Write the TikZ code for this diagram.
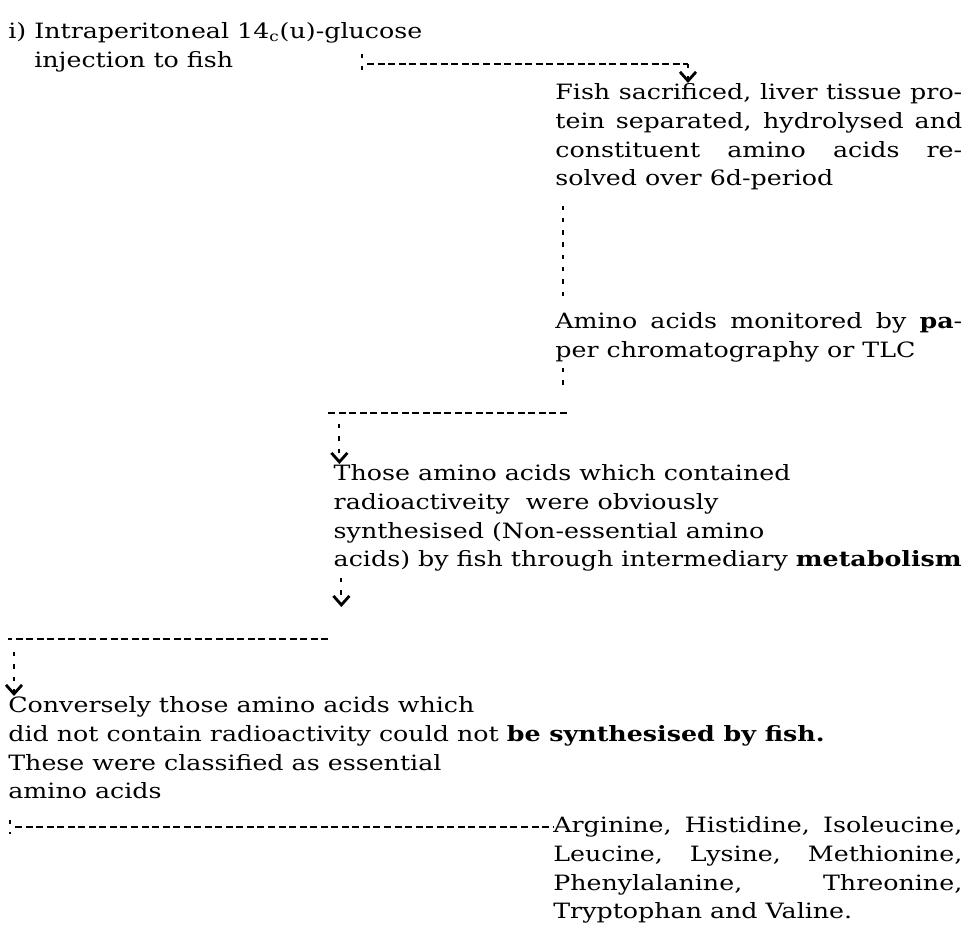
\documentclass[tikz,border=0pt]{standalone}
\usepackage{fontspec}
\setmainfont[FakeStretch=1.2]{DejaVu Serif}
\usetikzlibrary{arrows.meta}

\begin{document}
\begin{tikzpicture}[x=0.02cm,y=-0.02cm,font=\fontsize{12}{16.4}\selectfont,
  txt/.style={inner sep=0pt,anchor=north west,align=left},
  jtxt/.style={txt,text width=8.14cm,align=justify},
  hdash/.style={line width=1.1pt,dash pattern=on 4pt off 2pt},
  vdash/.style={line width=1.1pt,dash pattern=on 2.5pt off 4.5pt},
  tip/.style={-{Straight Barb[length=1.8mm,width=3.2mm,line width=1.6pt]}}]
  \useasboundingbox (0,0) rectangle (969,940);
  % text blocks
  \node[txt] (inject) at (8,22) {i) Intraperitoneal 14\textsubscript{c}(u)-glucose\\\phantom{i) }injection to fish};
  \node[jtxt] (sacrifice) at (555,83) {Fish sacrificed, liver tissue pro-\linebreak tein separated, hydrolysed and\linebreak constituent amino acids re-\linebreak solved over 6d-period};
  \node[jtxt] (monitor) at (555,312) {Amino acids monitored by \textbf{pa}-\linebreak per chromatography or TLC};
  \node[txt,anchor=north east] (nonessen) at (962,464) {Those amino acids which contained\\radioactiveity\ \ were obviously\\synthesised (Non-essential amino\\acids) by fish through intermediary \textbf{metabolism}};
  \node[txt] (essen) at (8,696) {Conversely those amino acids which\\did not contain radioactivity could not \textbf{be synthesised by fish.}\\These were classified as essential\\amino acids};
  \node[jtxt,text width=8.18cm] (aalist) at (553,816) {Arginine, Histidine, Isoleucine,\linebreak Leucine, Lysine, Methionine,\linebreak Phenylalanine, Threonine,\linebreak Tryptophan and Valine.};
  % connectors
  \coordinate (k0) at (362,54);
  \coordinate (k1) at (367,64);
  \coordinate (k2) at (688,64);
  \draw[vdash] (k0) -- ++(0,16);
  \draw[hdash] (k1) -- (k2);
  \draw[vdash,tip] (k2) -- (k2 |- sacrifice.north);
  \draw[vdash] ([xshift=0.16cm,yshift=-0.3cm]sacrifice.south west) -- ([xshift=0.16cm,yshift=0.3cm]monitor.north west);
  \coordinate (m0) at (563,368);
  \coordinate (m1) at (567,413);
  \coordinate (m2) at ([xshift=-0.1cm]nonessen.west |- m1);
  \coordinate (m3) at ([xshift=0.12cm]nonessen.west |- 0,424);
  \draw[vdash] (m0) -- (563,390);
  \draw[hdash] (m1) -- (m2);
  \draw[vdash,tip] (m3) -- (m3 |- nonessen.north);
  \coordinate (n0) at ([xshift=0.16cm]nonessen.west |- 0,578);
  \coordinate (n1) at ([xshift=-0.1cm]nonessen.west |- 0,639);
  \coordinate (n2) at (8,639);
  \coordinate (n3) at (14,652);
  \draw[vdash,tip] (n0) -- (n0 |- 0,607);
  \draw[hdash] (n1) -- (n2);
  \draw[vdash,tip] (n3) -- (n3 |- essen.north);
  \coordinate (e0) at (10,820);
  \coordinate (e1) at (15,827);
  \draw[vdash] (e0) -- ++(0,14);
  \draw[hdash] (e1) -- (aalist.west |- e1);
\end{tikzpicture}
\end{document}
